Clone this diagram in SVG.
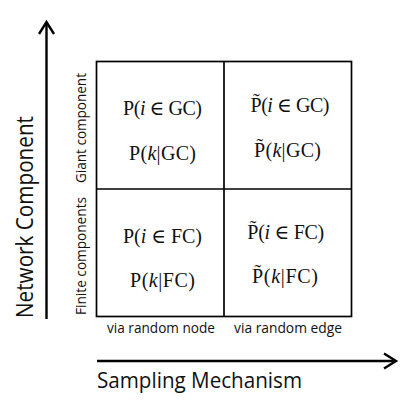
<svg xmlns="http://www.w3.org/2000/svg" width="409" height="409" viewBox="0 0 409 409">
<style>
.ax{stroke:#000;stroke-width:2.4;fill:none}
.grid{stroke:#000;stroke-width:1.7;fill:none}
.sans{font-family:"Open Sans","Liberation Sans",sans-serif;fill:#111}
.math{font-family:"Liberation Serif","DejaVu Serif",serif;font-size:20px;fill:#111}
.it{font-style:italic}
</style>
<rect width="409" height="409" fill="#fff"/>
<g id="connectors">
<line class="ax" x1="46.5" y1="319" x2="46.5" y2="23"/>
<polyline class="ax" points="39,34 46.5,22 54,34"/>
<line class="ax" x1="97" y1="361" x2="395" y2="361"/>
<polyline class="ax" points="384,353.5 396,361 384,368.5"/>
</g>
<g id="grid">
<rect class="grid" x="96.5" y="61.5" width="255" height="255"/>
<line class="grid" x1="224" y1="61.5" x2="224" y2="316.5"/>
<line class="grid" x1="96.5" y1="189" x2="351.5" y2="189"/>
</g>
<g id="axis-labels">
<text class="sans" font-size="21" x="97" y="388" textLength="205" lengthAdjust="spacingAndGlyphs">Sampling Mechanism</text>
<text class="sans" font-size="23" transform="translate(33,318) rotate(-90)" textLength="202" lengthAdjust="spacingAndGlyphs">Network Component</text>
<text class="sans" font-size="14.5" transform="translate(85.5,183) rotate(-90)" textLength="110" lengthAdjust="spacingAndGlyphs">Giant component</text>
<text class="sans" font-size="14.5" transform="translate(85.5,315) rotate(-90)" textLength="118" lengthAdjust="spacingAndGlyphs">Finite components</text>
<text class="sans" font-size="14.5" x="107" y="333" textLength="108" lengthAdjust="spacingAndGlyphs">via random node</text>
<text class="sans" font-size="14.5" x="234" y="333" textLength="108" lengthAdjust="spacingAndGlyphs">via random edge</text>
</g>
<g id="cell-node-gc">
<text class="math" x="123" y="115" textLength="79" lengthAdjust="spacing">P(<tspan class="it">i</tspan> ∈ GC)</text>
<text class="math" x="129" y="160" textLength="67" lengthAdjust="spacing">P(<tspan class="it">k</tspan>|GC)</text>
</g>
<g id="cell-edge-gc">
<text class="math" x="250" y="112" textLength="79" lengthAdjust="spacing">P̃(<tspan class="it">i</tspan> ∈ GC)</text>
<text class="math" x="254" y="157" textLength="67" lengthAdjust="spacing">P̃(<tspan class="it">k</tspan>|GC)</text>
</g>
<g id="cell-node-fc">
<text class="math" x="123" y="243" textLength="79" lengthAdjust="spacing">P(<tspan class="it">i</tspan> ∈ FC)</text>
<text class="math" x="130" y="287" textLength="65" lengthAdjust="spacing">P(<tspan class="it">k</tspan>|FC)</text>
</g>
<g id="cell-edge-fc">
<text class="math" x="247" y="239" textLength="77" lengthAdjust="spacing">P̃(<tspan class="it">i</tspan> ∈ FC)</text>
<text class="math" x="252" y="283" textLength="66" lengthAdjust="spacing">P̃(<tspan class="it">k</tspan>|FC)</text>
</g>
</svg>
